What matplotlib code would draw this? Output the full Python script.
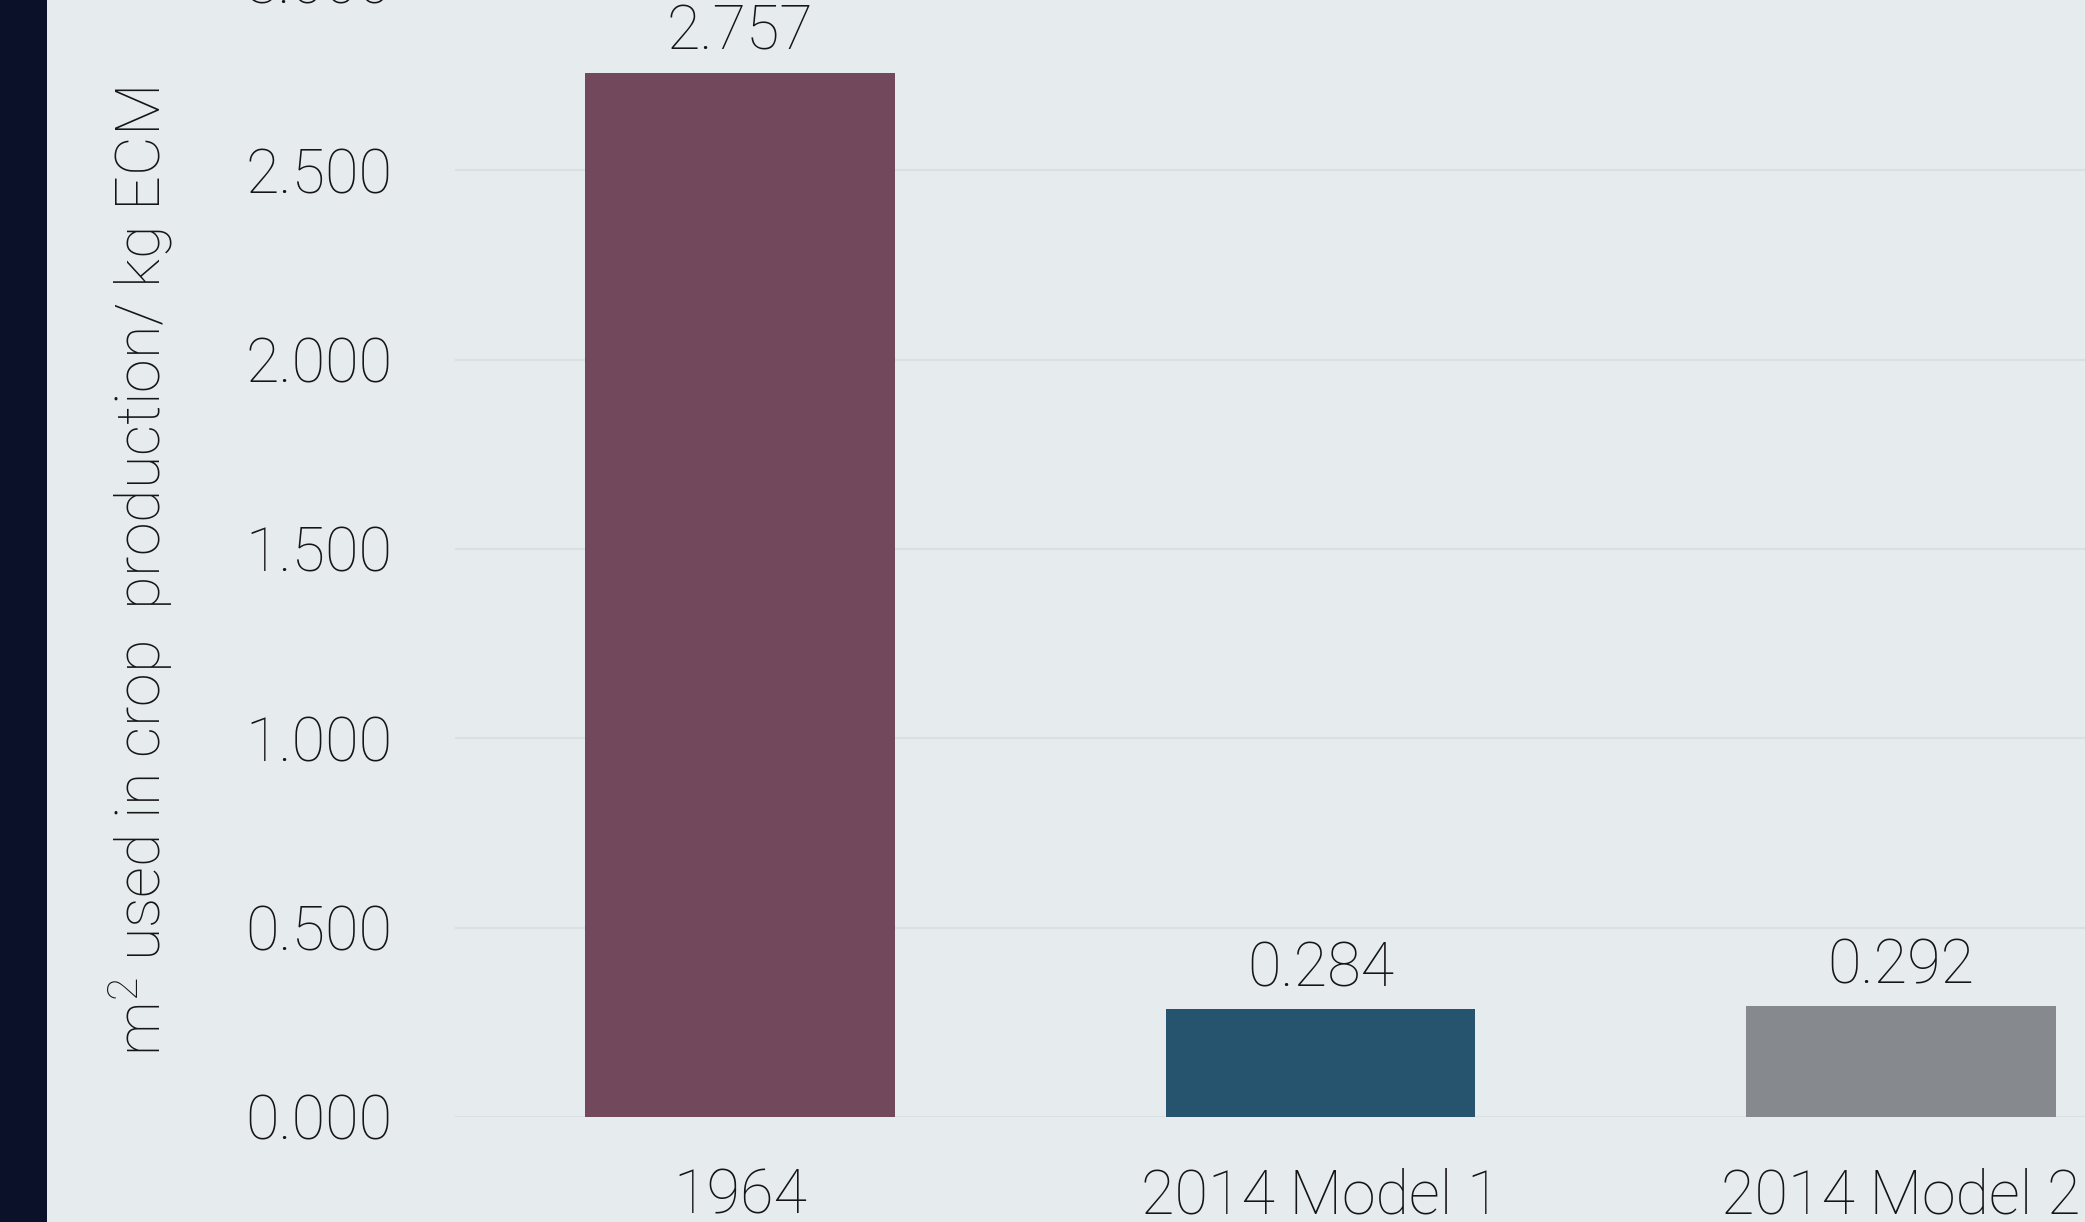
import matplotlib
matplotlib.use("Agg")
import matplotlib.pyplot as plt
from matplotlib.patches import Rectangle

# Data
categories = ["1964", "2014 Model 1", "2014 Model 2"]
values = [2.757, 0.284, 0.292]
bar_colors = ["#72485c", "#26546e", "#868a8e"]
y_ticks = [0.0, 0.5, 1.0, 1.5, 2.0, 2.5, 3.0]
y_label = "m$^2$ used in crop  production/ kg ECM"

plt.rcParams['font.family'] = ['Roboto', 'DejaVu Sans']
plt.rcParams['font.weight'] = 'light'
plt.rcParams['axes.labelweight'] = 'light'
plt.rcParams['mathtext.default'] = 'regular'

W, H = 2085, 1222
fig = plt.figure(figsize=(W / 100, H / 100), dpi=100)
fig.patch.set_facecolor("#e6ebee")

# dark strip on the left edge
fig.patches.append(Rectangle((0, 0), 47 / W, 1, transform=fig.transFigure,
                             facecolor="#0b1129", edgecolor="none", zorder=5))

ax = fig.add_axes([455 / W, 105 / H, 1 - 455 / W, 1136 / H])
ax.set_facecolor("#e6ebee")

x = range(len(categories))
bars = ax.bar(x, values, width=0.533, color=bar_colors, zorder=3)

for b, v in zip(bars, values):
    ax.annotate(f"{v:.3f}", (b.get_x() + b.get_width() / 2, v),
                xytext=(0, 8), textcoords="offset points",
                ha="center", va="bottom", fontsize=44, color="#151515")

ax.set_xlim(-0.491, 2.317)
ax.set_ylim(0, 3.0)
ax.set_yticks(y_ticks)
ax.set_yticklabels([f"{t:.3f}" for t in y_ticks])
ax.set_xticks(list(x))
ax.set_xticklabels(categories)
ax.tick_params(axis="y", length=0, pad=45, labelsize=44, labelcolor="#151515")
ax.tick_params(axis="x", length=0, pad=36, labelsize=44, labelcolor="#151515")

ax.grid(axis="y", color="#dadfe2", linewidth=1.5, zorder=0)
for s in ax.spines.values():
    s.set_visible(False)

ax.set_ylabel(y_label, fontsize=44, color="#151515")
ax.yaxis.set_label_coords(-0.172, 0.48)

fig.savefig("out.png", dpi=100, facecolor=fig.get_facecolor())
